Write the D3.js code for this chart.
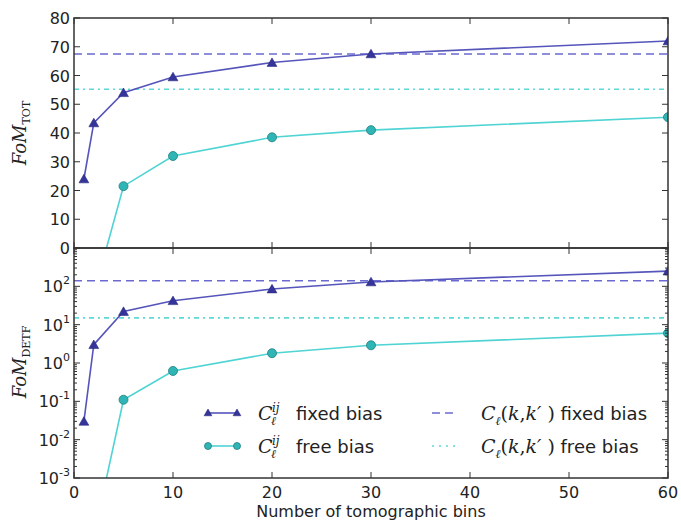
<!DOCTYPE html>
<html>
<head>
<meta charset="utf-8">
<script src="https://cdn.jsdelivr.net/npm/d3@7"></script>
<style>
  body { margin: 0; background: #fff; }
  .tick-text { font-family: "DejaVu Sans", sans-serif; font-size: 16px; fill: #222; }
  .math { font-family: "DejaVu Serif", serif; font-style: italic; fill: #222; }
  .rm { font-family: "DejaVu Serif", serif; fill: #222; }
  .legend-text { font-family: "DejaVu Sans", sans-serif; font-size: 18px; fill: #222; }
</style>
</head>
<body>
<svg id="chart" width="681" height="521"></svg>
<script>
/*
    FoM vs number of tomographic bins, two stacked panels
*/
var bins = [1, 2, 5, 10, 20, 30, 60];

// top panel, FoM_TOT
var totFixed = [24, 43.5, 54, 59.5, 64.5, 67.5, 72];
var totFree = [-60, -16, 21.5, 32, 38.5, 41, 45.5];
var totFixedRef = 67.5;
var totFreeRef = 55.2;

// bottom panel, FoM_DETF
var detfFixed = [0.03, 3, 22, 42, 85, 130, 250];
var detfFree = [1e-7, 3e-5, 0.11, 0.62, 1.8, 2.9, 6];
var detfFixedRef = 140;
var detfFreeRef = 15;

var xTicks = [0, 10, 20, 30, 40, 50, 60];
var topTicks = [0, 10, 20, 30, 40, 50, 60, 70, 80];
var logExps = [-3, -2, -1, 0, 1, 2];

var cFixedLine = '#5555bb',
  cFixedMark = '#34349a',
  cFreeLine = '#4fd3d3',
  cFreeMark = '#2fb5b5',
  cFreeEdge = '#237f7f',
  cFixedRef = '#6a6ad0',
  cFreeRef = '#5fd8d8';

var svg = d3.select('#chart');

var x = d3.scaleLinear().domain([0, 60]).range([74, 668]);
var yTop = d3.scaleLinear().domain([0, 80]).range([248, 18]);
var yBot = d3.scaleLog().domain([1e-3, 1e3]).range([478, 248]);

var defs = svg.append('defs');
defs.append('clipPath').attr('id', 'clipTop')
  .append('rect').attr('x', 74).attr('y', 18).attr('width', 594).attr('height', 230);
defs.append('clipPath').attr('id', 'clipBot')
  .append('rect').attr('x', 74).attr('y', 248).attr('width', 594).attr('height', 230);

var triangle = d3.symbol().type(d3.symbolTriangle).size(42);
var smallTriangle = d3.symbol().type(d3.symbolTriangle).size(26);

var panel = function(y, fixed, free, fixedRef, freeRef, clip) {
  var g = svg.append('g').attr('clip-path', 'url(#' + clip + ')');

  // reference lines
  g.append('line')
    .attr('x1', x(0)).attr('x2', x(60))
    .attr('y1', y(fixedRef)).attr('y2', y(fixedRef))
    .attr('stroke', cFixedRef).attr('stroke-width', 1.6)
    .attr('stroke-dasharray', '8,5');
  g.append('line')
    .attr('x1', x(0)).attr('x2', x(60))
    .attr('y1', y(freeRef)).attr('y2', y(freeRef))
    .attr('stroke', cFreeRef).attr('stroke-width', 1.6)
    .attr('stroke-dasharray', '5,4,2,4');

  var line = d3.line()
    .x(function(d) { return x(d[0]); })
    .y(function(d) { return y(d[1]); });

  var fixedPts = d3.zip(bins, fixed),
    freePts = d3.zip(bins, free);

  g.append('path').attr('d', line(freePts))
    .attr('fill', 'none').attr('stroke', cFreeLine).attr('stroke-width', 1.6);
  g.append('path').attr('d', line(fixedPts))
    .attr('fill', 'none').attr('stroke', cFixedLine).attr('stroke-width', 1.6);

  g.selectAll('.free-pt').data(freePts).enter().append('circle')
    .attr('class', 'free-pt')
    .attr('cx', function(d) { return x(d[0]); })
    .attr('cy', function(d) { return y(d[1]); })
    .attr('r', 4.5)
    .attr('fill', cFreeMark).attr('stroke', cFreeEdge).attr('stroke-width', 0.8);

  g.selectAll('.fixed-pt').data(fixedPts).enter().append('path')
    .attr('class', 'fixed-pt')
    .attr('d', triangle)
    .attr('transform', function(d) { return 'translate(' + x(d[0]) + ',' + (y(d[1]) + 1) + ')'; })
    .attr('fill', cFixedMark).attr('stroke', '#2a2a80').attr('stroke-width', 0.6);
};

panel(yTop, totFixed, totFree, totFixedRef, totFreeRef, 'clipTop');
panel(yBot, detfFixed, detfFree, detfFixedRef, detfFreeRef, 'clipBot');

// ticks, pointing inward on every side
var ticks = svg.append('g').attr('stroke', '#333').attr('stroke-width', 1);
xTicks.forEach(function(t) {
  [18, 248, 478].forEach(function(yy) {
    if (yy !== 478) ticks.append('line').attr('x1', x(t)).attr('x2', x(t)).attr('y1', yy).attr('y2', yy + 6);
    if (yy !== 18) ticks.append('line').attr('x1', x(t)).attr('x2', x(t)).attr('y1', yy).attr('y2', yy - 6);
  });
});
topTicks.forEach(function(t) {
  ticks.append('line').attr('x1', 74).attr('x2', 80).attr('y1', yTop(t)).attr('y2', yTop(t));
  ticks.append('line').attr('x1', 668).attr('x2', 662).attr('y1', yTop(t)).attr('y2', yTop(t));
});
logExps.concat([3]).forEach(function(e) {
  var v = Math.pow(10, e);
  ticks.append('line').attr('x1', 74).attr('x2', 80).attr('y1', yBot(v)).attr('y2', yBot(v));
  ticks.append('line').attr('x1', 668).attr('x2', 662).attr('y1', yBot(v)).attr('y2', yBot(v));
  if (e < 3) {
    d3.range(2, 10).forEach(function(m) {
      var yy = yBot(m * v);
      ticks.append('line').attr('x1', 74).attr('x2', 77).attr('y1', yy).attr('y2', yy);
      ticks.append('line').attr('x1', 668).attr('x2', 665).attr('y1', yy).attr('y2', yy);
    });
  }
});

// frames
[[18, 248], [248, 478]].forEach(function(r) {
  svg.append('rect')
    .attr('x', 74).attr('y', r[0]).attr('width', 594).attr('height', r[1] - r[0])
    .attr('fill', 'none').attr('stroke', '#333').attr('stroke-width', 1.5);
});

// tick labels
svg.selectAll('.xl').data(xTicks).enter().append('text')
  .attr('class', 'tick-text')
  .attr('x', function(d) { return x(d); })
  .attr('y', 498)
  .attr('text-anchor', 'middle')
  .text(function(d) { return d; });

svg.selectAll('.yl').data(topTicks).enter().append('text')
  .attr('class', 'tick-text')
  .attr('x', 70)
  .attr('y', function(d) { return yTop(d) + 6; })
  .attr('text-anchor', 'end')
  .text(function(d) { return d; });

logExps.forEach(function(e) {
  var t = svg.append('text')
    .attr('class', 'tick-text')
    .attr('x', 70)
    .attr('y', yBot(Math.pow(10, e)) + 6)
    .attr('text-anchor', 'end');
  t.append('tspan').text('10');
  t.append('tspan').attr('dy', -8).style('font-size', '11px').text(e);
});

// axis titles
svg.append('text')
  .attr('class', 'tick-text')
  .attr('x', 371).attr('y', 517)
  .attr('text-anchor', 'middle')
  .text('Number of tomographic bins');

var yTitle = function(cx, cy, sub) {
  var t = svg.append('text')
    .attr('transform', 'translate(' + cx + ',' + cy + ') rotate(-90)')
    .attr('text-anchor', 'middle');
  t.append('tspan').attr('class', 'math').style('font-size', '18px').text('FoM');
  t.append('tspan').attr('class', 'rm').attr('dy', 4).style('font-size', '11px').text(sub);
};
yTitle(26, 133, 'TOT');
yTitle(26, 362, 'DETF');

// legend
var legend = svg.append('g');
var rows = [413, 446];

var cij = function(lx, ly, rest) {
  legend.append('text').attr('class', 'math').attr('x', lx).attr('y', ly + 7).style('font-size', '19px').text('C');
  legend.append('text').attr('class', 'math').attr('x', lx + 14).attr('y', ly - 1).style('font-size', '12px').text('ij');
  legend.append('text').attr('class', 'math').attr('x', lx + 13).attr('y', ly + 12).style('font-size', '12px').text('\u2113');
  legend.append('text').attr('class', 'legend-text').attr('x', lx + 38).attr('y', ly + 7).text(rest);
};
var ckk = function(lx, ly, rest) {
  var t = legend.append('text').attr('x', lx).attr('y', ly + 7);
  t.append('tspan').attr('class', 'math').style('font-size', '19px').text('C');
  t.append('tspan').attr('class', 'math').attr('dy', 5).style('font-size', '12px').text('\u2113');
  t.append('tspan').attr('class', 'rm').attr('dy', -5).style('font-size', '19px').text('(');
  t.append('tspan').attr('class', 'math').style('font-size', '19px').text('k');
  t.append('tspan').attr('class', 'rm').style('font-size', '19px').text(',');
  t.append('tspan').attr('class', 'math').style('font-size', '19px').text('k\u2032');
  t.append('tspan').attr('class', 'rm').style('font-size', '19px').text(' )');
  t.append('tspan').attr('class', 'legend-text').text(' ' + rest);
};

legend.append('line').attr('x1', 208).attr('x2', 237).attr('y1', rows[0]).attr('y2', rows[0])
  .attr('stroke', cFixedLine).attr('stroke-width', 1.6);
[208, 237].forEach(function(px) {
  legend.append('path').attr('d', smallTriangle)
    .attr('transform', 'translate(' + px + ',' + (rows[0] + 0.5) + ')')
    .attr('fill', cFixedMark).attr('stroke', '#2a2a80').attr('stroke-width', 0.6);
});
legend.append('line').attr('x1', 208).attr('x2', 237).attr('y1', rows[1]).attr('y2', rows[1])
  .attr('stroke', cFreeLine).attr('stroke-width', 1.6);
[208, 237].forEach(function(px) {
  legend.append('circle').attr('cx', px).attr('cy', rows[1]).attr('r', 3.5)
    .attr('fill', cFreeMark).attr('stroke', cFreeEdge).attr('stroke-width', 0.8);
});
cij(258, rows[0], 'fixed bias');
cij(258, rows[1], 'free bias');

legend.append('line').attr('x1', 432).attr('x2', 458).attr('y1', rows[0]).attr('y2', rows[0])
  .attr('stroke', cFixedRef).attr('stroke-width', 1.6).attr('stroke-dasharray', '8,5');
legend.append('line').attr('x1', 432).attr('x2', 458).attr('y1', rows[1]).attr('y2', rows[1])
  .attr('stroke', cFreeRef).attr('stroke-width', 1.6).attr('stroke-dasharray', '2,5,2,5');
ckk(481, rows[0], 'fixed bias');
ckk(481, rows[1], 'free bias');
</script>
</body>
</html>
